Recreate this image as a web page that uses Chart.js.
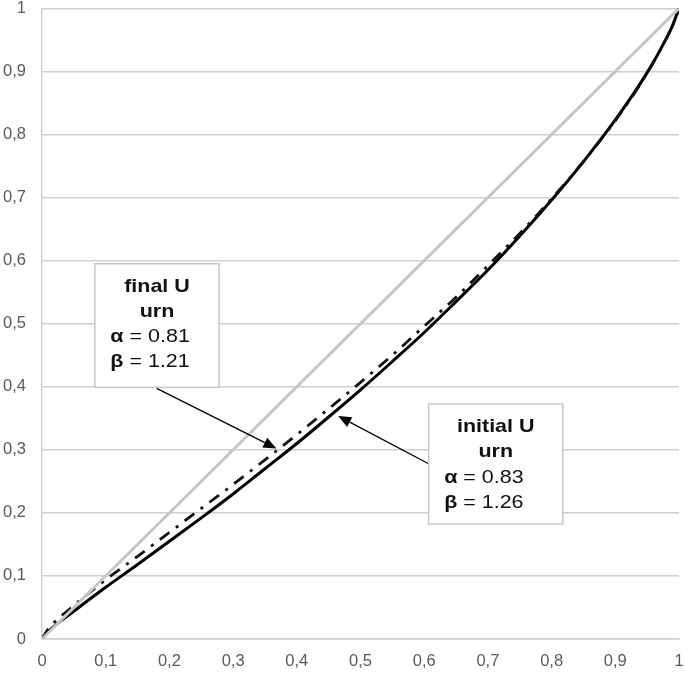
<!DOCTYPE html>
<html>
<head>
<meta charset="utf-8">
<script src="https://cdn.jsdelivr.net/npm/chart.js@4/dist/chart.umd.min.js"></script>
<style>
  html, body { margin: 0; padding: 0; background: #fff; }
  #wrap { width: 685px; height: 674px; position: relative; }
</style>
</head>
<body>
<div id="wrap"><canvas id="chart"></canvas></div>
<script>
// probabilities on the x axis, weights
const probs    = [0, 0.01, 0.05, 0.1, 0.15, 0.2, 0.25, 0.3, 0.35, 0.4, 0.45, 0.5, 0.55, 0.6, 0.65, 0.7, 0.75, 0.8, 0.85, 0.9, 0.95, 0.98, 0.99, 1];
const initialW = [0, 0.012, 0.044, 0.082, 0.118, 0.155, 0.192, 0.23, 0.27, 0.31, 0.352, 0.395, 0.44, 0.486, 0.535, 0.585, 0.639, 0.696, 0.757, 0.823, 0.898, 0.952, 0.973, 1];
const finalW   = [0, 0.016, 0.053, 0.094, 0.131, 0.169, 0.207, 0.245, 0.284, 0.324, 0.365, 0.407, 0.45, 0.496, 0.542, 0.592, 0.643, 0.698, 0.757, 0.822, 0.897, 0.952, 0.973, 1];
const diagX = [0, 1];
const diagY = [0, 1];

const tickValues = [0, 0.1, 0.2, 0.3, 0.4, 0.5, 0.6, 0.7, 0.8, 0.9, 1];
const tickLabels = ['0', '0,1', '0,2', '0,3', '0,4', '0,5', '0,6', '0,7', '0,8', '0,9', '1'];

const urnNames   = ['final U', 'initial U'];
const alphaVals  = ['0.81', '0.83'];
const betaVals   = ['1.21', '1.26'];

// annotation placement, in data units
const noteBoxes = [
  { x0: 0.083, x1: 0.278, y0: 0.595, y1: 0.399, from: [0.18, 0.3975], to: [0.368, 0.302] },
  { x0: 0.607, x1: 0.8175, y0: 0.3726, y1: 0.1823, from: [0.6077, 0.2775], to: [0.465, 0.3536] }
];

const toPts = (xs, ys) => xs.map((v, i) => ({ x: v, y: ys[i] }));
const GRID = '#cfcfcf';
const TEXT_FONT = '"Liberation Sans", Arial, sans-serif';
const STRETCH = 1.13;

function fillStretched(ctx, str, x, y, align) {
  ctx.save();
  ctx.translate(x, y);
  ctx.scale(STRETCH, 1);
  ctx.textAlign = align;
  ctx.fillText(str, 0, 0);
  ctx.restore();
}

function drawArrow(ctx, x1, y1, x2, y2) {
  const ang = Math.atan2(y2 - y1, x2 - x1);
  const len = 13, half = 5.5;
  const bx = x2 - len * Math.cos(ang), by = y2 - len * Math.sin(ang);
  ctx.beginPath();
  ctx.moveTo(x1, y1);
  ctx.lineTo(bx, by);
  ctx.strokeStyle = '#000';
  ctx.lineWidth = 1.3;
  ctx.stroke();
  ctx.beginPath();
  ctx.moveTo(x2, y2);
  ctx.lineTo(bx + half * Math.sin(ang), by - half * Math.cos(ang));
  ctx.lineTo(bx - half * Math.sin(ang), by + half * Math.cos(ang));
  ctx.closePath();
  ctx.fillStyle = '#000';
  ctx.fill();
}

const urnNotes = {
  id: 'urnNotes',
  afterDatasetsDraw(chart) {
    const { ctx, scales: { x, y } } = chart;
    ctx.save();
    noteBoxes.forEach((b, i) => {
      drawArrow(ctx, x.getPixelForValue(b.from[0]), y.getPixelForValue(b.from[1]),
                x.getPixelForValue(b.to[0]), y.getPixelForValue(b.to[1]));

      const left = x.getPixelForValue(b.x0), right = x.getPixelForValue(b.x1);
      const top = y.getPixelForValue(b.y0), bottom = y.getPixelForValue(b.y1);
      ctx.fillStyle = '#fff';
      ctx.fillRect(left, top, right - left, bottom - top);
      ctx.strokeStyle = '#c8c8c8';
      ctx.lineWidth = 1.5;
      ctx.strokeRect(left, top, right - left, bottom - top);

      const cx = (left + right) / 2;
      ctx.fillStyle = '#111';
      ctx.textBaseline = 'middle';
      ctx.font = 'bold 19px ' + TEXT_FONT;
      fillStretched(ctx, urnNames[i], cx, top + 23, 'center');
      fillStretched(ctx, 'urn', cx, top + 48, 'center');

      [['α', alphaVals[i], 73.5], ['β', betaVals[i], 98.5]].forEach(([sym, val, dy]) => {
        const tx = left + 15.5;
        ctx.font = 'bold 19px ' + TEXT_FONT;
        fillStretched(ctx, sym, tx, top + dy, 'left');
        const w = ctx.measureText(sym).width * STRETCH;
        ctx.font = '19px ' + TEXT_FONT;
        fillStretched(ctx, ' = ' + val, tx + w, top + dy, 'left');
      });
    });
    ctx.restore();
  }
};

const tickFmt = v => {
  const i = tickValues.findIndex(t => Math.abs(t - v) < 1e-6);
  return i >= 0 ? tickLabels[i] : '';
};

new Chart(document.getElementById('chart'), {
  type: 'line',
  data: {
    datasets: [
      {
        label: 'diagonal',
        data: toPts(diagX, diagY),
        borderColor: '#c6c6c6',
        borderWidth: 3,
        pointRadius: 0,
        tension: 0
      },
      {
        label: 'final U urn',
        data: toPts(probs, finalW),
        borderColor: '#111',
        borderWidth: 2.8,
        borderDash: [12, 8, 3, 8],
        pointRadius: 0,
        cubicInterpolationMode: 'monotone'
      },
      {
        label: 'initial U urn',
        data: toPts(probs, initialW),
        borderColor: '#000',
        borderWidth: 3,
        pointRadius: 0,
        cubicInterpolationMode: 'monotone'
      }
    ]
  },
  options: {
    responsive: true,
    maintainAspectRatio: false,
    animation: false,
    layout: { padding: { top: 8.3, right: 6, left: 0, bottom: 0 } },
    plugins: { legend: { display: false }, tooltip: { enabled: false } },
    scales: {
      x: {
        type: 'linear',
        min: 0, max: 1,
        afterBuildTicks: s => { s.ticks = tickValues.map(v => ({ value: v })); },
        afterFit: s => { s.height = 35; s.paddingLeft = 0; s.paddingRight = 0; },
        grid: { display: false, drawTicks: false },
        border: { display: true, color: GRID, width: 1.5 },
        ticks: {
          padding: 13,
          color: '#595959',
          font: { family: TEXT_FONT, size: 16.5, lineHeight: 1.2 },
          callback: tickFmt,
          maxRotation: 0
        }
      },
      y: {
        type: 'linear',
        min: 0, max: 1,
        afterBuildTicks: s => { s.ticks = tickValues.map(v => ({ value: v })); },
        afterFit: s => { s.width = 42; s.paddingTop = 0; s.paddingBottom = 0; },
        grid: { color: GRID, lineWidth: 1.5, drawTicks: false },
        border: { display: true, color: GRID, width: 1.5 },
        ticks: {
          padding: 16,
          color: '#595959',
          font: { family: TEXT_FONT, size: 16.5, lineHeight: 1 },
          callback: tickFmt
        }
      }
    }
  },
  plugins: [urnNotes]
});
</script>
</body>
</html>
